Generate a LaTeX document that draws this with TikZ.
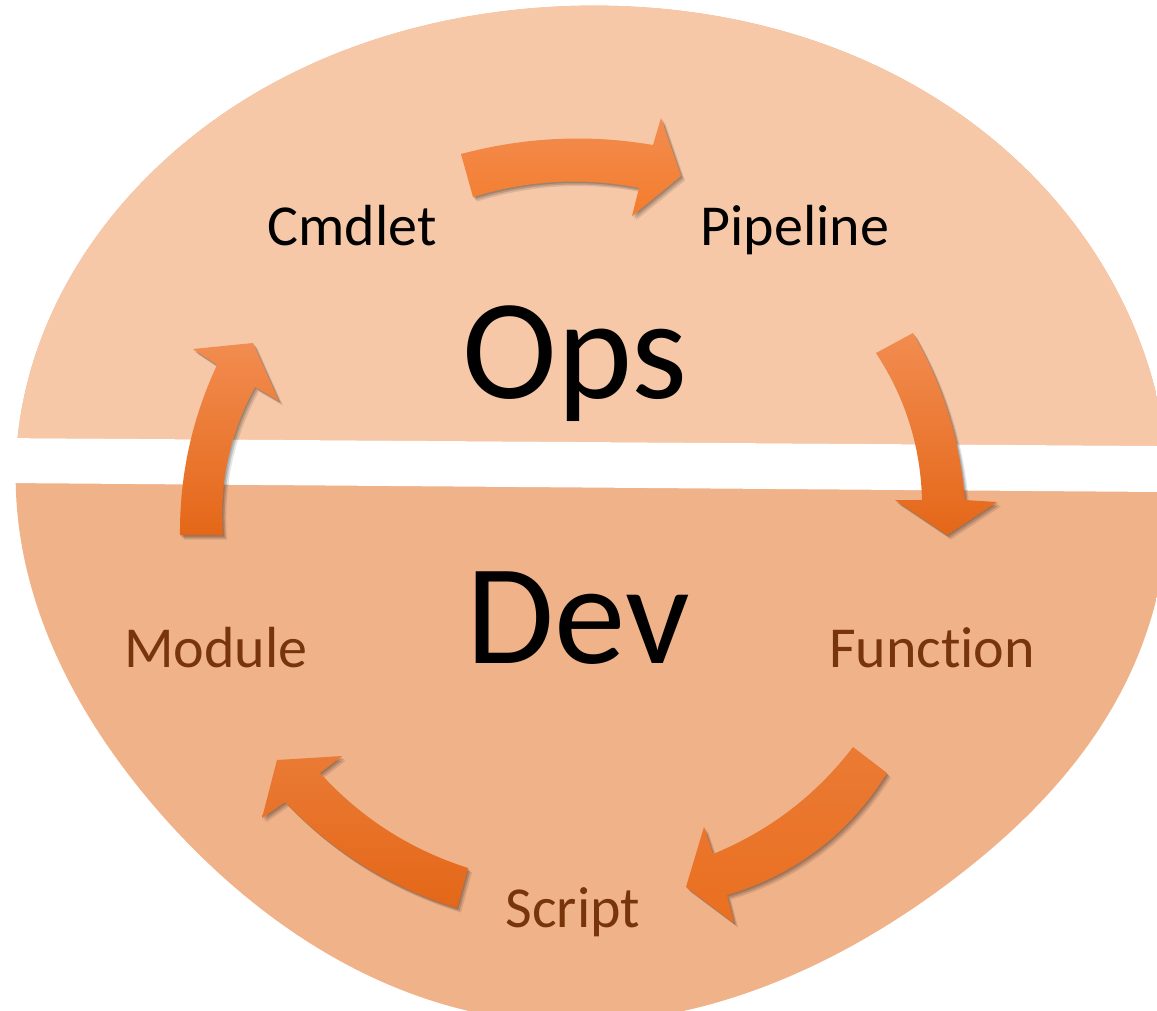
\documentclass[tikz,border=0pt]{standalone}
\usepackage{fontspec}
\setmainfont{Carlito}[Ligatures=NoCommon]
\usetikzlibrary{shadows,hobby}
\definecolor{opsbg}{RGB}{246,200,168}
\definecolor{devbg}{RGB}{240,178,137}
\definecolor{devtxt}{RGB}{120,53,12}
\definecolor{arrlight}{RGB}{242,140,80}
\definecolor{arrmid}{RGB}{244,124,44}
\definecolor{arrdark}{RGB}{228,103,24}
\definecolor{arrlow}{RGB}{234,122,52}
\tikzset{
  blockarrow/.style={
    drop shadow={shadow xshift=4pt, shadow yshift=-4.5pt, opacity=0.10, fill=black},
    drop shadow={shadow xshift=2.5pt, shadow yshift=-3pt, opacity=0.14, fill=black},
    drop shadow={shadow xshift=1.2pt, shadow yshift=-1.5pt, opacity=0.14, fill=black}},
  lbl/.style={anchor=base, inner sep=0pt, font=\fontsize{58}{60}\selectfont},
  biglbl/.style={anchor=base, inner sep=0pt, font=\fontsize{143}{150}\selectfont},
}
\begin{document}
\begin{tikzpicture}[x=1pt,y=-1pt]
\useasboundingbox (0,0) rectangle (1157,1010);
\begin{scope}
  \clip plot[closed hobby] coordinates {
   (570,6) (1027,170) (1168,470) (1127,680) (950,882) (520,1020)
   (160,813) (16,460) (130,195)};
  \fill[devbg] (-20,-20) rectangle (1200,1040);
  \fill[opsbg] (-20,-20) -- (1200,-20) -- (1200,446.3) -- (-20,437.9) -- cycle;
\end{scope}
% white band
\fill[white] (-20,437.9) -- (1200,446.3) -- (1200,492.3) -- (-20,482.8) -- cycle;

% arrows
\shade[blockarrow, top color=arrlight, bottom color=arrmid]
  (461,154) .. controls (525,137) and (589,134) .. (653,145) -- (661,118) -- (681,176)
  -- (632,216) -- (639,188) .. controls (584,177) and (528,180) .. (473,197) -- cycle;
\shade[blockarrow, top color=arrlight, bottom color=arrdark]
  (876,353) -- (913,333) .. controls (943,385) and (960,440) .. (965,500) -- (997,502)
  -- (947,535) -- (895,500) -- (922,500) .. controls (920.7,446.6) and (905.3,397.6) .. (876,353) -- cycle;
\shade[blockarrow, top color=arrlow, bottom color=arrdark!60!arrmid]
  (853,747) -- (887,773) .. controls (849,833.8) and (795.7,874.5) .. (727,895) -- (734,923)
  -- (686,887) -- (704,827) -- (713,854) .. controls (769.4,831) and (816,795.3) .. (853,747) -- cycle;
\shade[blockarrow, top color=arrlow, bottom color=arrdark]
  (468,868) .. controls (410.1,849.5) and (360.8,817.9) .. (320,773) -- (342,756) -- (277,760)
  -- (262,818) -- (285,802) .. controls (333.3,852.1) and (390.6,887.5) .. (457,908) -- cycle;
\shade[blockarrow, top color=arrlight, bottom color=arrdark]
  (180,535) .. controls (179.5,475.5) and (191.9,418.9) .. (217,365) -- (193,349) -- (253,343)
  -- (279,401) -- (255,387) .. controls (229.7,433.2) and (219.1,482.5) .. (223,535) -- cycle;

% labels
\node[lbl] (cmdlet) at (352,245) {Cmdlet};
\node[lbl] (pipeline) at (795,245) {Pipeline};
\node[biglbl] (ops) at (575,398) {Ops};
\node[biglbl] (dev) at (578,663) {Dev};
\node[lbl, text=devtxt] (module) at (216,667) {Module};
\node[lbl, text=devtxt] (function) at (932,667) {Function};
\node[lbl, text=devtxt] (script) at (573,927) {Script};
\end{tikzpicture}
\end{document}
